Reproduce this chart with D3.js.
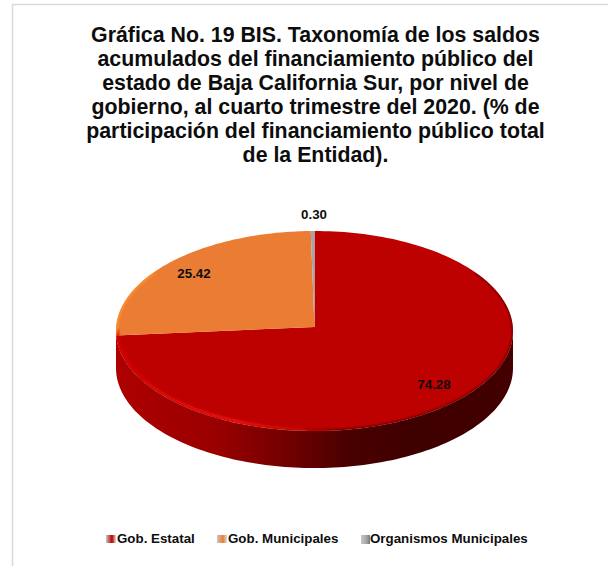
<!DOCTYPE html>
<html><head><meta charset="utf-8">
<script src="https://cdn.jsdelivr.net/npm/d3@7"></script>
<style>html,body{margin:0;padding:0;background:#fff}svg{display:block}text{font-family:"Liberation Sans",Arial,sans-serif;font-weight:bold;fill:#0d0d0d}</style>
</head><body><div id="c"></div>
<script>
const categories=["Gob. Estatal","Gob. Municipales","Organismos Municipales"];
const values=[74.28,25.42,0.30];
const valueLabels=["74.28","25.42","0.30"];
const titleLines=["Gráfica No. 19 BIS. Taxonomía de los saldos","acumulados del financiamiento público del","estado de Baja California Sur, por nivel de","gobierno, al cuarto trimestre del 2020. (% de","participación del financiamiento público total","de la Entidad)."];
const colors=["#bd0000","#ea7d33","#a5a5a5"];
const W=608,H=566,cx=314.5,cy=331,rx=198.5,ry=100,pivotY=327,depth=37;
const svg=d3.select("#c").append("svg").attr("width",W).attr("height",H);
const defs=svg.append("defs");
svg.append("rect").attr("x",12.5).attr("y",4.5).attr("width",W).attr("height",H).attr("fill","#fff").attr("stroke","#d9d9d9").attr("stroke-width",1.5);
const wall=defs.append("linearGradient").attr("id","wall").attr("gradientUnits","userSpaceOnUse").attr("x1",cx-rx).attr("x2",cx+rx).attr("y1",0).attr("y2",0);
[[0,"#ad0000"],[.25,"#9a0000"],[.42,"#750000"],[.58,"#4a0000"],[.75,"#3f0000"],[1,"#420000"]].forEach(s=>wall.append("stop").attr("offset",s[0]).attr("stop-color",s[1]));
defs.append("filter").attr("id","soft").append("feGaussianBlur").attr("stdDeviation",0.8);
const hl=defs.append("linearGradient").attr("id","hl").attr("gradientUnits","userSpaceOnUse").attr("x1",cx-rx).attr("x2",cx+20).attr("y1",0).attr("y2",0);
[[0,"#d80000",1],[.55,"#f51a10",1],[.8,"#d81000",.6],[1,"#700000",.5]].forEach(s=>hl.append("stop").attr("offset",s[0]).attr("stop-color",s[1]).attr("stop-opacity",s[2]));
const px=a=>cx+rx*Math.sin(a), py=a=>cy-ry*Math.cos(a);
const arcs=d3.pie().sort(null)(values);
const rim=(a0,a1,dy=0)=>{const n=Math.max(2,Math.ceil(Math.abs(a1-a0)*40));return d3.range(n+1).map(i=>{const a=a0+(a1-a0)*i/n;return [px(a),py(a)+dy]})};
const line=d3.line();
const wallPts=rim(Math.PI/2,Math.PI*1.5).concat(rim(Math.PI*1.5,Math.PI/2,depth));
svg.append("path").attr("d",line(wallPts)+"Z").attr("fill","url(#wall)");
svg.selectAll("path.s").data(arcs).join("path").attr("class","s")
 .attr("d",d=>line([[cx,pivotY]].concat(rim(d.startAngle,d.endAngle)))+"Z")
 .attr("fill",(d,i)=>colors[i]);
const clip=defs.append("clipPath").attr("id","top");
clip.append("path").attr("d",line(rim(0,2*Math.PI))+"Z");
const g=svg.append("g").attr("clip-path","url(#top)");
g.append("path").attr("d",line(rim(Math.PI*.98,Math.PI*1.5,-1.5).map(p=>[p[0]+1.5,p[1]]))).attr("fill","none").attr("stroke","url(#hl)").attr("stroke-width",2.5).attr("filter","url(#soft)");
g.append("path").attr("d",line(rim(Math.PI*.3,Math.PI*.98,0))).attr("fill","none").attr("stroke","#5a0000").attr("stroke-width",2).attr("filter","url(#soft)");
g.append("path").attr("d",line(rim(arcs[1].startAngle+.02,Math.PI*1.7,0))).attr("fill","none").attr("stroke","#ff8f33").attr("stroke-width",3.5).attr("filter","url(#soft)");
const t=svg.append("text").attr("text-anchor","middle").attr("font-size",21.33);
titleLines.forEach((l,i)=>t.append("tspan").attr("x",315.5).attr("y",42+i*24).text(l));
const labelPos=[[434,389],[194,278],[314,219]];
svg.selectAll("text.v").data(valueLabels).join("text").attr("class","v").attr("text-anchor","middle").attr("font-size",13.33)
 .attr("x",(d,i)=>labelPos[i][0]).attr("y",(d,i)=>labelPos[i][1]).text(d=>d);
const legX=[106,217,361];
categories.forEach((c,i)=>{
 const id="lg"+i,lg=defs.append("linearGradient").attr("id",id);
 lg.append("stop").attr("offset",0).attr("stop-color","#c8c8c8");
 lg.append("stop").attr("offset",.6).attr("stop-color",colors[i]);
 lg.append("stop").attr("offset",1).attr("stop-color",i==2?"#777":"#ddd");
 svg.append("rect").attr("x",legX[i]).attr("y",535).attr("width",i==2?9:10).attr("height",i==2?9:8).attr("fill","url(#"+id+")");
 svg.append("text").attr("x",legX[i]+(i==2?9:11)).attr("y",543).attr("font-size",13.33).text(c);
});
</script></body></html>
